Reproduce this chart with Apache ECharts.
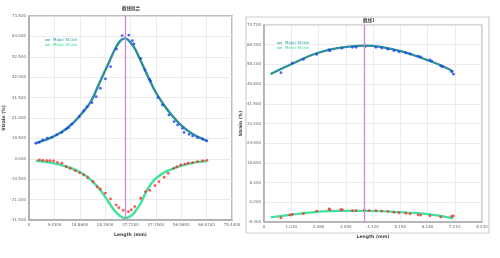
<!DOCTYPE html>
<html><head><meta charset="utf-8">
<script src="https://cdn.jsdelivr.net/npm/echarts@6/dist/echarts.min.js"></script>
<style>html,body{margin:0;padding:0;background:#fff}#c{width:500px;height:258px}</style>
</head><body><div id="c"></div>
<script>
// ---- Left chart data (Length mm, Strain %) ----
const leftMajorFit = [[2.6,8.1],[5,9.2],[8,10.8],[11,12.9],[14,15.6],[17,19.3],[20,24.0],[23,29.5],[26,38.5],[28,44.5],[30,50.5],[32,56.5],[34,60.8],[35.6,62.0],[37,61.0],[39,57.5],[41,52.0],[43,46.0],[45,40.0],[47,34.5],[50,28.0],[53,22.5],[56,18.0],[59,14.5],[62,11.8],[64,10.5],[66.1,9.2]];
const leftMinorFit = [[2.5,-1.0],[8,-2.0],[14.1,-4.1],[18,-6.2],[21.6,-9.2],[24,-12.3],[26.5,-16.1],[28.5,-20.0],[30.3,-23.8],[32,-27.0],[33.4,-28.9],[34.5,-30.0],[35.6,-30.6],[37,-30.0],[38.4,-28.9],[40,-26.0],[41.5,-22.9],[43,-18.5],[44.6,-14.4],[46.5,-11.0],[48.9,-8.3],[51,-6.5],[53.9,-4.9],[57,-3.4],[60.1,-2.3],[63,-1.6],[66.1,-1.1]];
const leftMajorPts = [[2.5,8.0],[3.8,8.5],[5.1,9.7],[6.8,10.6],[8.5,11.1],[10.3,12.3],[12.2,13.6],[13.8,15.3],[14.7,16.0],[15.9,17.8],[18.7,21.7],[20.3,24.6],[21.6,26.8],[23.4,28.9],[25.0,32.0],[26.5,36.3],[28.4,41.1],[30.3,47.4],[32.5,56.5],[34.6,63.4],[37.1,63.7],[38.4,60.8],[39.0,59.1],[41.5,51.7],[43.1,45.7],[44.8,40.9],[45.2,40.0],[47.9,31.5],[49.6,27.7],[52.0,22.5],[53.9,19.1],[55.2,17.4],[57.0,15.7],[57.6,13.6],[59.5,12.6],[60.8,11.7],[62.6,10.9],[64.5,10.2],[66.1,9.2]];
const leftMinorPts = [[3.85,-0.6],[5.1,-0.8],[6.6,-1.0],[7.8,-1.0],[9.1,-1.1],[10.6,-1.8],[12.2,-2.3],[13.8,-4.1],[15.3,-4.9],[17.2,-6.1],[18.8,-7.2],[20.3,-8.3],[21.8,-9.7],[23.8,-11.8],[25.3,-14.4],[26.5,-15.5],[28.4,-17.7],[30.3,-20.7],[32.4,-23.8],[33.4,-25.2],[35.0,-26.5],[36.9,-27.2],[38.0,-26.3],[39.3,-24.6],[41.5,-20.3],[43.3,-16.9],[44.9,-16.2],[46.8,-13.8],[48.3,-11.8],[50.2,-9.5],[51.7,-7.5],[53.7,-4.9],[54.9,-4.1],[56.4,-3.2],[57.9,-2.7],[59.1,-2.3],[60.8,-2.0],[62.6,-1.5],[64.5,-1.1],[66.1,-0.8]];
const leftPeakX = 35.6;

// ---- Right chart data ----
const rightMajorFit = [[0.25,54.1],[1.11,58.6],[1.99,62.8],[2.87,65.1],[3.82,66.0],[4.51,65.3],[5.27,63.4],[6.15,60.0],[6.72,57.5],[7.16,55.0]];
const rightMinorFit = [[0.25,-6.3],[1.11,-5.1],[1.99,-4.0],[2.87,-3.6],[3.82,-3.6],[4.76,-3.9],[5.52,-4.4],[6.27,-5.1],[7.16,-6.8]];
const rightMajorPts = [[0.64,54.6],[1.07,58.6],[1.49,60.2],[1.99,62.3],[2.46,64.2],[2.49,63.9],[2.94,64.9],[3.34,65.3],[3.48,65.3],[3.82,65.6],[4.23,65.3],[4.45,65.0],[4.68,64.5],[4.91,63.9],[5.10,63.4],[5.36,63.0],[5.52,62.5],[5.83,61.6],[5.92,61.3],[6.27,60.0],[6.34,59.5],[6.68,57.5],[6.74,57.1],[7.09,55.0],[7.16,54.0]];
const rightMinorPts = [[0.64,-6.5],[0.98,-5.4],[1.07,-5.1],[1.49,-4.8],[1.99,-3.7],[2.46,-2.8],[2.49,-3.1],[2.90,-3.1],[2.96,-3.1],[3.34,-3.5],[3.48,-3.5],[3.79,-3.3],[3.97,-3.5],[4.23,-3.5],[4.45,-3.7],[4.68,-3.8],[4.91,-4.2],[5.10,-4.4],[5.36,-4.6],[5.52,-4.9],[5.83,-5.4],[5.92,-5.4],[6.27,-5.7],[6.68,-6.2],[7.09,-5.9],[7.16,-5.7]];
const rightPeakX = 3.79;

const names = ['Major Strain','Minor Strain'];
const titles = ['截线拟合','截线1'];
const xName = 'Length (mm)', yName = 'Strain (%)';

const chart = echarts.init(document.getElementById('c'), null, {renderer:'canvas'});
const lblStyle = {fontSize:4, color:'#666', fontFamily:'DejaVu Sans'};
function xAxis(grid, min, max, interval, dec){
  return {type:'value', gridIndex:grid, min, max, interval, name:xName, nameLocation:'middle', nameGap:6,
    nameTextStyle:{fontSize:4.5, color:'#444', fontWeight:'bold', fontFamily:'DejaVu Sans'},
    axisLine:{onZero:false, lineStyle:{color:'#aaa', width:1.5}}, axisTick:{show:false},
    axisLabel:Object.assign({margin:3, formatter:v=> v===0?'0':v.toFixed(dec)}, lblStyle),
    splitLine:{show:true, lineStyle:{color:'#e6e6e6', width:0.8}}};
}
function yAxis(grid, min, max, interval, dec, gap){
  return {type:'value', gridIndex:grid, min, max, interval, name:yName, nameLocation:'middle', nameGap:gap, nameRotate:90,
    nameTextStyle:{fontSize:4.5, color:'#444', fontWeight:'bold', fontFamily:'DejaVu Sans'},
    axisLine:{onZero:false, lineStyle:{color:'#aaa', width:1.5}}, axisTick:{show:false},
    axisLabel:Object.assign({margin:3, formatter:v=>v.toFixed(dec)}, lblStyle),
    splitLine:{show:true, lineStyle:{color:'#e6e6e6', width:0.8}}};
}
function fitLine(name, data, xi, color, w, withMark, peak){
  const s = {name, type:'line', xAxisIndex:xi, yAxisIndex:xi, data, smooth:true, showSymbol:false,
    lineStyle:{color, width:w}, itemStyle:{color}, z:3, animation:false};
  if(withMark){
    s.markLine = {silent:true, symbol:['none','none'], label:{show:false},
      lineStyle:{color:'#c98bd3', width:1.3, type:'solid'}, data:[{xAxis:peak}]};
  }
  return s;
}
function pts(name, data, xi, color){
  return {name, type:'scatter', xAxisIndex:xi, yAxisIndex:xi, data, symbol:'circle', symbolSize:2.8,
    itemStyle:{color}, z:4, animation:false};
}
function legend(left, top){
  return {left, top, orient:'vertical', itemWidth:5, itemHeight:1, itemGap:1, icon:'rect', selectedMode:false,
    textStyle:{fontSize:4, padding:[0,0,0,-2], fontFamily:'DejaVu Sans'},
    data:[{name:names[0], itemStyle:{color:'#2a9a9a'}, textStyle:{color:'#2a9a9a'}},
          {name:names[1], itemStyle:{color:'#33dd99'}, textStyle:{color:'#33dd99'}}]};
}
chart.setOption({
  animation:false,
  backgroundColor:'#fff',
  graphic:[{type:'rect', shape:{x:246, y:17, width:243, height:216}, style:{fill:'none', stroke:'#cfcfcf', lineWidth:1.2}, z:-1}],
  title:[
    {text:titles[0], left:122, top:6, padding:0, textStyle:{fontSize:4.5, color:'#444', fontWeight:'bold', fontFamily:'Noto Sans CJK SC'}},
    {text:titles[1], left:363, top:18, padding:0, textStyle:{fontSize:4.5, color:'#444', fontWeight:'bold', fontFamily:'Noto Sans CJK SC'}}
  ],
  legend:[legend(40, 33), legend(272, 36)],
  grid:[
    {left:29, top:16, width:203, height:204, show:true, borderColor:'#a8a8a8', borderWidth:1.5, backgroundColor:'transparent'},
    {left:264, top:25, width:218, height:197, show:true, borderColor:'#b0b0b0', borderWidth:1.2, backgroundColor:'transparent'}
  ],
  xAxis:[xAxis(0, 0, 75.44, 9.43, 4), xAxis(1, 0, 8.24, 1.03, 3)],
  yAxis:[yAxis(0, -31.5, 73.5, 10.5, 3, 15), yAxis(1, -8.3, 74.7, 8.3, 3, 14)],
  series:[
    fitLine(names[0], leftMajorFit, 0, '#2a8f98', 2.4, true, leftPeakX),
    fitLine(names[1], leftMinorFit, 0, '#3ee29c', 2.4, false),
    pts('majorPtsL', leftMajorPts, 0, '#2140ff'),
    pts('minorPtsL', leftMinorPts, 0, '#ff2a2a'),
    fitLine(names[0], rightMajorFit, 1, '#2a8f98', 2.2, true, rightPeakX),
    fitLine(names[1], rightMinorFit, 1, '#3ee29c', 2.2, false),
    pts('majorPtsR', rightMajorPts, 1, '#2140ff'),
    pts('minorPtsR', rightMinorPts, 1, '#ff2a2a')
  ]
});
</script></body></html>
